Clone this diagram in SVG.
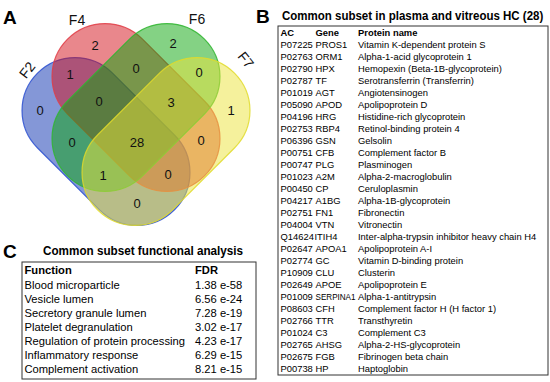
<svg xmlns="http://www.w3.org/2000/svg" width="550" height="382" viewBox="0 0 550 382">
<style>
.set{fill-opacity:0.5;stroke-width:1.2;stroke-opacity:0.85}
.num{font-family:"Liberation Sans",Arial,sans-serif;font-size:13px;fill:#111;text-anchor:middle}
.lbl{font-family:"Liberation Sans",Arial,sans-serif;font-size:14px;fill:#111;text-anchor:middle}
.panel{font-family:"Liberation Sans",Arial,sans-serif;font-size:19px;font-weight:bold;fill:#000}
.title{font-family:"Liberation Sans",Arial,sans-serif;font-size:13px;font-weight:bold;fill:#000}
.tb{font-family:"Liberation Sans",Arial,sans-serif;font-size:9.4px;fill:#000}
.tbh{font-family:"Liberation Sans",Arial,sans-serif;font-size:9.4px;font-weight:bold;fill:#000}
.tc{font-family:"Liberation Sans",Arial,sans-serif;font-size:11.2px;fill:#000}
.tch{font-family:"Liberation Sans",Arial,sans-serif;font-size:11.2px;font-weight:bold;fill:#000}
.box{fill:#fff;stroke:#333;stroke-width:1}
</style>
<defs>
<rect id="cap" x="-96.8" y="-53" width="193.6" height="106" rx="53" ry="53"/>
</defs>
<g id="panelA">
<text class="panel" x="3" y="24">A</text>
<g id="F2"><use href="#cap" class="set" transform="translate(106,141.5) rotate(45)" fill="#0a2fb0" stroke="#2a4fd0"/></g>
<g id="F4"><use href="#cap" class="set" transform="translate(136,107.5) rotate(45)" fill="#d40f1a" stroke="#e03c45"/></g>
<g id="F6"><use href="#cap" class="set" transform="translate(136,107.5) rotate(-45)" fill="#0aa50a" stroke="#2fb52f"/></g>
<g id="F7"><use href="#cap" class="set" transform="translate(166,141.5) rotate(-45)" fill="#ece33a" stroke="#e0da2a"/></g>
<text class="lbl" transform="translate(31,73) rotate(-52)">F2</text>
<text class="lbl" x="77" y="25">F4</text>
<text class="lbl" x="197" y="24">F6</text>
<text class="lbl" transform="translate(242,63) rotate(52)">F7</text>
<g id="counts">
<text class="num" x="95" y="49.7">2</text>
<text class="num" x="173" y="47.7">2</text>
<text class="num" x="70" y="78.7">1</text>
<text class="num" x="136" y="72.7">0</text>
<text class="num" x="199" y="76.7">0</text>
<text class="num" x="40" y="114.7">0</text>
<text class="num" x="99" y="105.7">0</text>
<text class="num" x="171" y="106.7">3</text>
<text class="num" x="231" y="114.7">1</text>
<text class="num" x="72" y="146.7">0</text>
<text class="num" x="137" y="146.7">28</text>
<text class="num" x="201" y="144.7">0</text>
<text class="num" x="103" y="179.7">1</text>
<text class="num" x="168" y="178.7">0</text>
<text class="num" x="137" y="207.7">0</text>
</g>
</g>
<g id="panelB">
<text class="panel" x="256" y="23">B</text>
<text class="title" transform="translate(282,20) scale(0.885,1)">Common subset in plasma and vitreous HC (28)</text>
<rect class="box" x="278" y="26" width="270" height="349"/>
<g id="tableB">
<text class="tbh" x="280.5" y="36.3">AC</text><text class="tbh" x="315.5" y="36.3">Gene</text><text class="tbh" x="358" y="36.3">Protein name</text>
<text class="tb" x="280.5" y="48.3">P07225</text><text class="tb" x="315.5" y="48.3">PROS1</text><text class="tb" x="358" y="48.3">Vitamin K-dependent protein S</text>
<text class="tb" x="280.5" y="60.3">P02763</text><text class="tb" x="315.5" y="60.3">ORM1</text><text class="tb" x="358" y="60.3">Alpha-1-acid glycoprotein 1</text>
<text class="tb" x="280.5" y="72.3">P02790</text><text class="tb" x="315.5" y="72.3">HPX</text><text class="tb" x="358" y="72.3">Hemopexin (Beta-1B-glycoprotein)</text>
<text class="tb" x="280.5" y="84.3">P02787</text><text class="tb" x="315.5" y="84.3">TF</text><text class="tb" x="358" y="84.3">Serotransferrin (Transferrin)</text>
<text class="tb" x="280.5" y="96.3">P01019</text><text class="tb" x="315.5" y="96.3">AGT</text><text class="tb" x="358" y="96.3">Angiotensinogen</text>
<text class="tb" x="280.5" y="108.3">P05090</text><text class="tb" x="315.5" y="108.3">APOD</text><text class="tb" x="358" y="108.3">Apolipoprotein D</text>
<text class="tb" x="280.5" y="120.3">P04196</text><text class="tb" x="315.5" y="120.3">HRG</text><text class="tb" x="358" y="120.3">Histidine-rich glycoprotein</text>
<text class="tb" x="280.5" y="132.3">P02753</text><text class="tb" x="315.5" y="132.3">RBP4</text><text class="tb" x="358" y="132.3">Retinol-binding protein 4</text>
<text class="tb" x="280.5" y="144.3">P06396</text><text class="tb" x="315.5" y="144.3">GSN</text><text class="tb" x="358" y="144.3">Gelsolin</text>
<text class="tb" x="280.5" y="156.3">P00751</text><text class="tb" x="315.5" y="156.3">CFB</text><text class="tb" x="358" y="156.3">Complement factor B</text>
<text class="tb" x="280.5" y="168.3">P00747</text><text class="tb" x="315.5" y="168.3">PLG</text><text class="tb" x="358" y="168.3">Plasminogen</text>
<text class="tb" x="280.5" y="180.3">P01023</text><text class="tb" x="315.5" y="180.3">A2M</text><text class="tb" x="358" y="180.3">Alpha-2-macroglobulin</text>
<text class="tb" x="280.5" y="192.3">P00450</text><text class="tb" x="315.5" y="192.3">CP</text><text class="tb" x="358" y="192.3">Ceruloplasmin</text>
<text class="tb" x="280.5" y="204.3">P04217</text><text class="tb" x="315.5" y="204.3">A1BG</text><text class="tb" x="358" y="204.3">Alpha-1B-glycoprotein</text>
<text class="tb" x="280.5" y="216.3">P02751</text><text class="tb" x="315.5" y="216.3">FN1</text><text class="tb" x="358" y="216.3">Fibronectin</text>
<text class="tb" x="280.5" y="228.3">P04004</text><text class="tb" x="315.5" y="228.3">VTN</text><text class="tb" x="358" y="228.3">Vitronectin</text>
<text class="tb" x="280.5" y="240.3">Q14624</text><text class="tb" x="314.5" y="240.3">ITIH4</text><text class="tb" x="358" y="240.3">Inter-alpha-trypsin inhibitor heavy chain H4</text>
<text class="tb" x="280.5" y="252.3">P02647</text><text class="tb" x="315.5" y="252.3">APOA1</text><text class="tb" x="358" y="252.3">Apolipoprotein A-I</text>
<text class="tb" x="280.5" y="264.3">P02774</text><text class="tb" x="315.5" y="264.3">GC</text><text class="tb" x="358" y="264.3">Vitamin D-binding protein</text>
<text class="tb" x="280.5" y="276.3">P10909</text><text class="tb" x="315.5" y="276.3">CLU</text><text class="tb" x="358" y="276.3">Clusterin</text>
<text class="tb" x="280.5" y="288.3">P02649</text><text class="tb" x="315.5" y="288.3">APOE</text><text class="tb" x="358" y="288.3">Apolipoprotein E</text>
<text class="tb" x="280.5" y="300.3">P01009</text><text class="tb" x="315.5" y="300.3" textLength="40" lengthAdjust="spacingAndGlyphs">SERPINA1</text><text class="tb" x="358" y="300.3">Alpha-1-antitrypsin</text>
<text class="tb" x="280.5" y="312.3">P08603</text><text class="tb" x="315.5" y="312.3">CFH</text><text class="tb" x="358" y="312.3">Complement factor H (H factor 1)</text>
<text class="tb" x="280.5" y="324.3">P02766</text><text class="tb" x="315.5" y="324.3">TTR</text><text class="tb" x="358" y="324.3">Transthyretin</text>
<text class="tb" x="280.5" y="336.3">P01024</text><text class="tb" x="315.5" y="336.3">C3</text><text class="tb" x="358" y="336.3">Complement C3</text>
<text class="tb" x="280.5" y="348.3">P02765</text><text class="tb" x="315.5" y="348.3">AHSG</text><text class="tb" x="358" y="348.3">Alpha-2-HS-glycoprotein</text>
<text class="tb" x="280.5" y="360.3">P02675</text><text class="tb" x="315.5" y="360.3">FGB</text><text class="tb" x="358" y="360.3">Fibrinogen beta chain</text>
<text class="tb" x="280.5" y="372.3">P00738</text><text class="tb" x="315.5" y="372.3">HP</text><text class="tb" x="358" y="372.3">Haptoglobin</text>
</g>
</g>
<g id="panelC">
<text class="panel" x="3" y="258">C</text>
<text class="title" transform="translate(43,255) scale(0.9,1)">Common subset functional analysis</text>
<rect class="box" x="22" y="262" width="234" height="117"/>
<g id="tableC">
<text class="tch" x="24.5" y="274">Function</text><text class="tch" x="195" y="274">FDR</text>
<text class="tc" x="24.5" y="288.5">Blood microparticle</text><text class="tc" x="195" y="288.5">1.38 e-58</text>
<text class="tc" x="24.5" y="302.6">Vesicle lumen</text><text class="tc" x="195" y="302.6">6.56 e-24</text>
<text class="tc" x="24.5" y="316.8">Secretory granule lumen</text><text class="tc" x="195" y="316.8">7.28 e-19</text>
<text class="tc" x="24.5" y="330.9">Platelet degranulation</text><text class="tc" x="195" y="330.9">3.02 e-17</text>
<text class="tc" x="24.5" y="345.1">Regulation of protein processing</text><text class="tc" x="195" y="345.1">4.23 e-17</text>
<text class="tc" x="24.5" y="359.2">Inflammatory response</text><text class="tc" x="195" y="359.2">6.29 e-15</text>
<text class="tc" x="24.5" y="373.4">Complement activation</text><text class="tc" x="195" y="373.4">8.21 e-15</text>
</g>
</g>
</svg>
